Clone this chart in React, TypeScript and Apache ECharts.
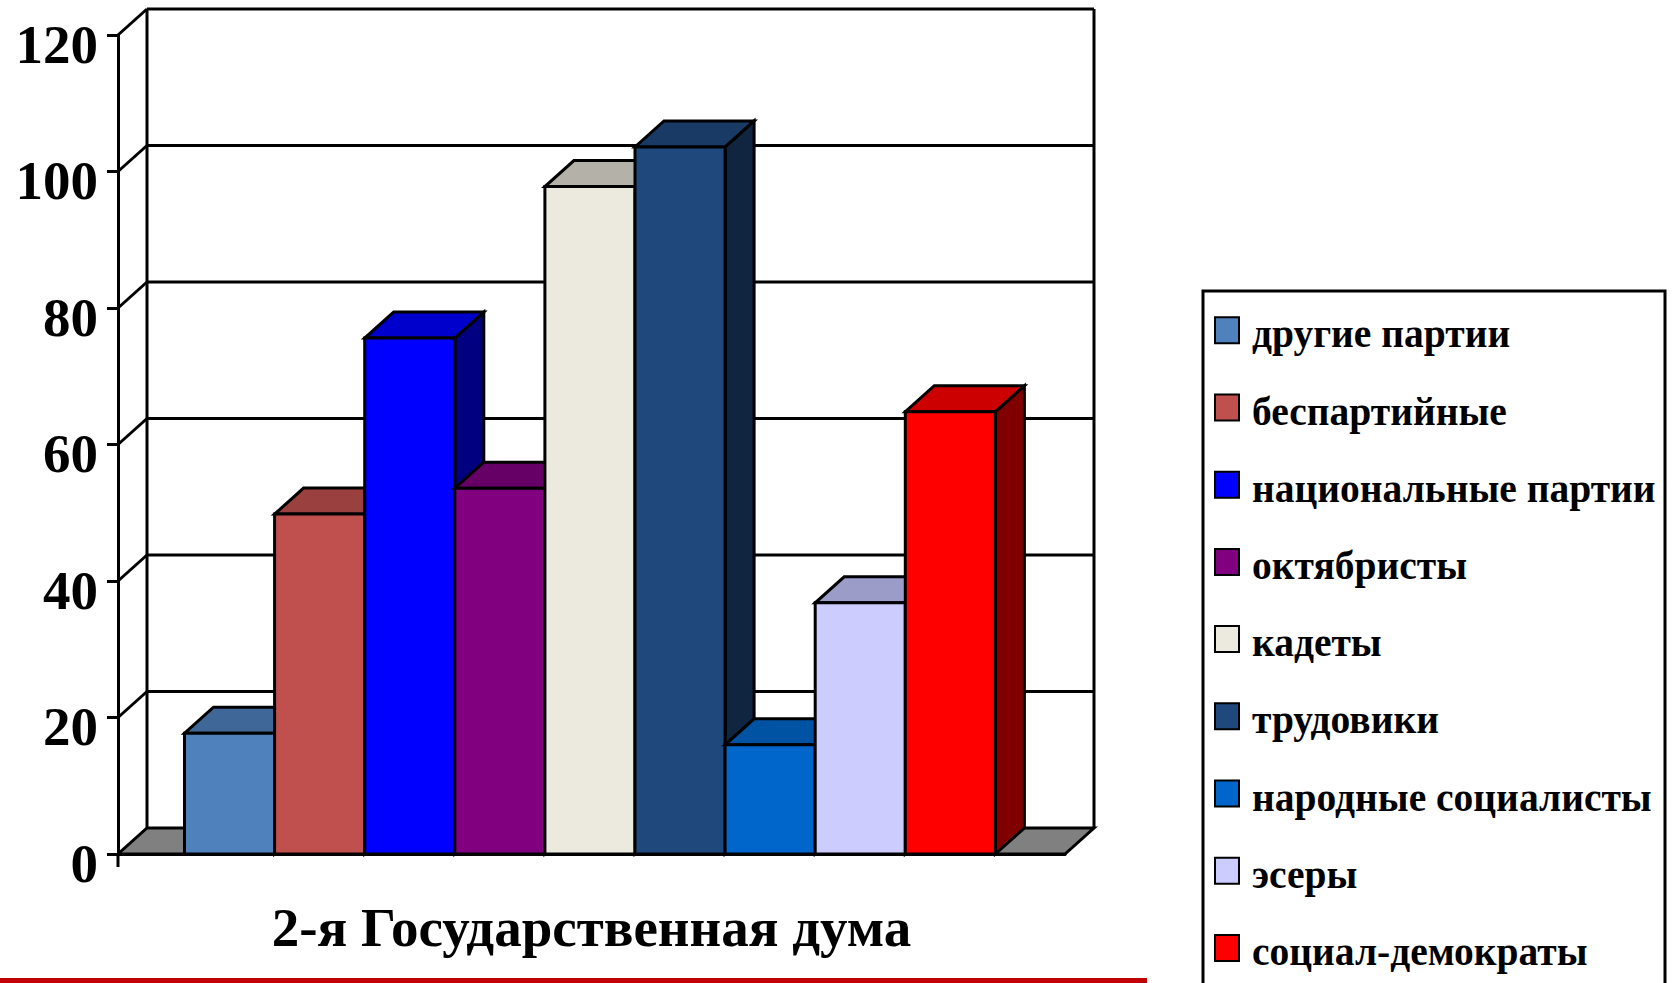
import React, { useEffect, useRef } from "react";
import * as echarts from "echarts";

const categories = ["2-я Государственная дума"];
const parties = [
  "другие партии",
  "беспартийные",
  "национальные партии",
  "октябристы",
  "кадеты",
  "трудовики",
  "народные социалисты",
  "эсеры",
  "социал-демократы",
];
const seats = [17.7, 49.8, 75.6, 53.6, 97.8, 103.6, 16, 36.8, 64.8];
const frontColors = ["#4F81BD", "#C0504D", "#0000FF", "#800080", "#ECEADF", "#1F497D", "#0066CC", "#CCCCFF", "#FF0000"];
const topColors = ["#3F6797", "#9A403E", "#0000CC", "#660066", "#B3B1A8", "#193A64", "#0052A3", "#9C9CC8", "#CC0000"];
const sideColors = ["#284060", "#602826", "#000080", "#400040", "#767570", "#10253F", "#003366", "#666680", "#800000"];
const yTicks = [0, 20, 40, 60, 80, 100, 120];

const FONT = '"Liberation Serif", "Times New Roman", serif';
const DX = 29;
const DY = 26;
const LINE = "#000";
const BAR_W = 90.1;
const BAR_START = 66.5;

function wallRender(params: any, api: any) {
  const sys = params.coordSys;
  const tick = api.value(1);
  const p = api.coord([0, tick]);
  const y = p[1];
  const left = sys.x;
  const right = sys.x + sys.width;
  const kids: any[] = [];
  const st = { stroke: LINE, lineWidth: 3, fill: null };
  if (tick === 0) {
    kids.push({
      type: "polygon",
      shape: { points: [[left, y], [right, y], [right + DX, y - DY], [left + DX, y - DY]] },
      style: { fill: "#808080", stroke: LINE, lineWidth: 3 },
    });
    kids.push({ type: "line", shape: { x1: left + DX, y1: sys.y - DY, x2: left + DX, y2: y - DY }, style: st });
    kids.push({ type: "line", shape: { x1: right + DX, y1: sys.y - DY, x2: right + DX, y2: y - DY }, style: st });
    kids.push({ type: "line", shape: { x1: left, y1: y, x2: left, y2: y + 13 }, style: st });
  } else {
    kids.push({ type: "line", shape: { x1: left + DX, y1: y - DY, x2: right + DX, y2: y - DY }, style: st });
    kids.push({ type: "line", shape: { x1: left, y1: y, x2: left + DX, y2: y - DY }, style: st });
  }
  return { type: "group", children: kids };
}

function makeBarRender(i: number) {
  return (params: any, api: any) => {
    const sys = params.coordSys;
    const band = api.size([1, 0])[0];
    const x0 = sys.x + (band * BAR_START) / 947 + i * BAR_W;
    const x1 = x0 + BAR_W;
    const top = api.coord([0, api.value(1)])[1];
    const base = api.coord([0, 0])[1];
    const st = { stroke: LINE, lineWidth: 3, lineJoin: "miter" };
    return {
      type: "group",
      children: [
        {
          type: "polygon",
          shape: { points: [[x1, base], [x1, top], [x1 + DX, top - DY], [x1 + DX, base - DY]] },
          style: { fill: sideColors[i], ...st },
        },
        {
          type: "polygon",
          shape: { points: [[x0, top], [x1, top], [x1 + DX, top - DY], [x0 + DX, top - DY]] },
          style: { fill: topColors[i], ...st },
        },
        {
          type: "rect",
          shape: { x: x0, y: top, width: BAR_W, height: base - top },
          style: { fill: frontColors[i], ...st },
        },
      ],
    };
  };
}

export default function App() {
  const ref = useRef<HTMLDivElement>(null);
  useEffect(() => {
    document.body.style.margin = "0";
    document.body.style.background = "#fff";
    document.body.style.overflow = "hidden";
    const chart = echarts.init(ref.current!, undefined, { renderer: "svg" });
    chart.setOption({
      animation: false,
      backgroundColor: "#fff",
      grid: { left: 118, top: 35, width: 947, height: 819 },
      xAxis: {
        type: "category",
        data: categories,
        axisLine: { show: true, lineStyle: { color: LINE, width: 3 } },
        axisTick: { show: false },
        axisLabel: {
          margin: 46,
          fontFamily: FONT,
          fontWeight: "bold",
          fontSize: 55,
          color: "#000",
        },
      },
      yAxis: {
        type: "value",
        min: 0,
        max: 120,
        interval: 20,
        splitLine: { show: false },
        axisLine: { show: true, lineStyle: { color: LINE, width: 3 } },
        axisTick: { show: true, length: 11, lineStyle: { color: LINE, width: 3 } },
        axisLabel: {
          margin: 20,
          fontFamily: FONT,
          fontWeight: "bold",
          fontSize: 55,
          color: "#000",
          verticalAlign: "top",
          padding: [-18.5, 0, 0, 0],
        },
      },
      legend: {
        data: parties,
        orient: "vertical",
        left: 1214,
        top: 314.3,
        padding: 0,
        icon: "rect",
        itemWidth: 24,
        itemHeight: 26,
        itemGap: 37.2,
        itemStyle: { borderColor: "#000", borderWidth: 2 },
        selectedMode: false,
        formatter: "{a|{name}}",
        textStyle: {
          fontFamily: FONT,
          fontWeight: "bold",
          fontSize: 39.5,
          color: "#000",
          rich: {
            a: { fontFamily: FONT, fontWeight: "bold", fontSize: 39.5, color: "#000", padding: [8, 0, 0, 8] },
          },
        },
      },
      graphic: [
        {
          type: "rect",
          z: -1,
          shape: { x: 1203, y: 291, width: 462, height: 720 },
          style: { fill: "#fff", stroke: "#000", lineWidth: 3 },
        },
        {
          type: "rect",
          shape: { x: 0, y: 978, width: 1147, height: 5 },
          style: { fill: "#C00000" },
        },
      ],
      series: [
        {
          type: "custom",
          name: "стены",
          silent: true,
          clip: false,
          z: 1,
          renderItem: wallRender,
          encode: { x: 0, y: 1 },
          data: yTicks.map((t) => [0, t]),
        },
        ...parties.map((name, i) => ({
          type: "custom",
          name,
          clip: false,
          z: 2,
          itemStyle: { color: frontColors[i] },
          renderItem: makeBarRender(i),
          encode: { x: 0, y: 1 },
          data: [[0, seats[i]]],
        })),
      ],
    });
    return () => chart.dispose();
  }, []);
  return <div ref={ref} style={{ width: 1673, height: 983 }} />;
}
